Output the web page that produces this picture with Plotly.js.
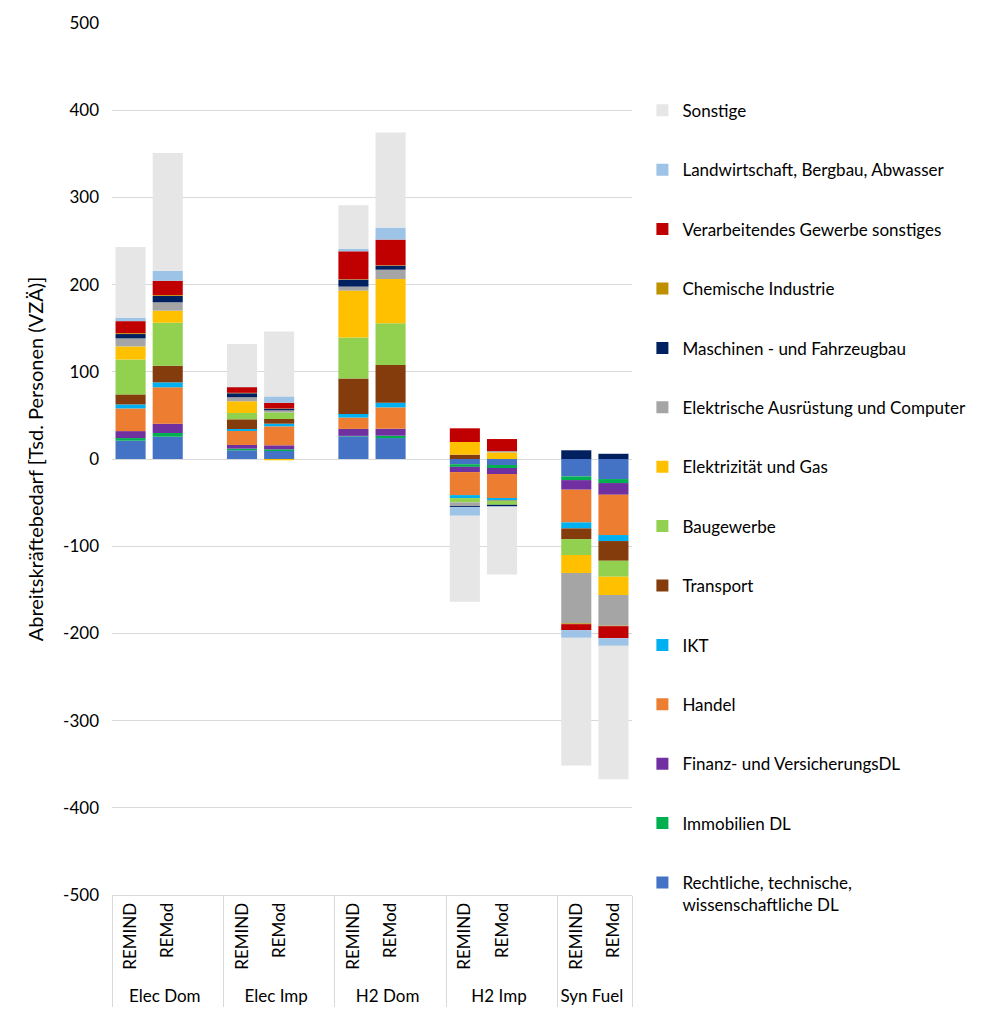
<!DOCTYPE html>
<html>
<head>
<meta charset="utf-8">
<script src="https://cdn.plot.ly/plotly-3.0.1.min.js"></script>
<style>html,body{margin:0;padding:0;background:#fff;}#chart{width:997px;height:1024px;}</style>
</head>
<body>
<div id="chart"></div>
<script>
// Groups and models (bars per group)
const groups = ['Elec Dom', 'Elec Imp', 'H2 Dom', 'H2 Imp', 'Syn Fuel'];
const models = ['REMIND', 'REMod'];

// Y tick labels (hyphen minus as in the original)
const yTickVals = [-500, -400, -300, -200, -100, 0, 100, 200, 300, 400, 500];
const yTickText = ['-500', '-400', '-300', '-200', '-100', '0', '100', '200', '300', '400', '500'];

// Series names (stack order bottom -> top)
const seriesNames = [
  'Rechtliche, technische,<br>wissenschaftliche DL',
  'Immobilien DL',
  'Finanz- und VersicherungsDL',
  'Handel',
  'IKT',
  'Transport',
  'Baugewerbe',
  'Elektrizität und Gas',
  'Elektrische Ausrüstung und Computer',
  'Maschinen - und Fahrzeugbau',
  'Chemische Industrie',
  'Verarbeitendes Gewerbe sonstiges',
  'Landwirtschaft, Bergbau, Abwasser',
  'Sonstige'
];
const seriesColors = ['#4472C4','#00B050','#7030A0','#ED7D31','#00B0F0','#843C0C','#92D050','#FFC000','#A5A5A5','#002060','#BF9000','#C00000','#9DC3E6','#E6E6E6'];

// Values per bar: ElecDom REMIND, ElecDom REMod, ElecImp REMIND, ElecImp REMod, H2Dom REMIND, H2Dom REMod, H2Imp REMIND, H2Imp REMod, SynFuel REMIND, SynFuel REMod
const rechtliche      = [21, 25.6, 10, 9.2, 26, 24, -6, -6.9, -20, -23];
const immobilien      = [3, 4.2, 1.9, 1.9, 0.5, 2.7, -3, -3.4, -4.2, -4.6];
const finanz          = [8, 10.7, 4.2, 4.6, 8, 8, -6, -6.9, -11, -13.4];
const handel          = [26, 41.7, 16, 21.8, 13, 24.5, -26.4, -27.5, -37.5, -46.2];
const ikt             = [4.6, 5.7, 2.3, 3, 4.2, 5.4, -3.4, -2.7, -6.9, -6.9];
const transport       = [11.5, 19.1, 11.1, 5.4, 40.5, 43.2, 5, -0.5, -12.2, -22.6];
const baugewerbe      = [40, 49.3, 7.3, 7.6, 47, 47.8, -5, -4.6, -18.3, -18.3];
const elektrizitaet   = [15, 13.8, 13.4, -1.5, 53.9, 50.8, 14.5, 7.6, -20.6, -21];
const elektrAusr      = [9.2, 9.6, 4.6, 2.3, 4.6, 10.7, -4.2, 1.5, -57.7, -35.2];
const maschinen       = [5, 7.3, 4.6, 1.9, 8, 4.6, -1.1, -1.9, 10, 6];
const chemie          = [1, 1, 0.5, 0.3, 0.5, 0.5, 0, 0, -1, -0.5];
const verarbeitendes  = [13.8, 16.4, 6.5, 6.5, 32, 29.4, 15.7, 13.8, -6.9, -13.8];
const landwirtschaft  = [4, 11.5, 0.5, 7.3, 3, 13.8, -10, -0.5, -8.8, -8.8];
const sonstige        = [81, 135, 49, 74.5, 49.7, 109, -98.6, -77.6, -146.4, -152.9];

const seriesValues = [rechtliche, immobilien, finanz, handel, ikt, transport, baugewerbe, elektrizitaet, elektrAusr, maschinen, chemie, verarbeitendes, landwirtschaft, sonstige];

// Build multicategory x with an empty spacer slot after each group but the last
const xGroup = [], xSub = [], idxMap = [];
groups.forEach((g, gi) => {
  models.forEach((m, mi) => { xGroup.push(g); xSub.push(m); idxMap.push(gi * models.length + mi); });
  if (gi < groups.length - 1) { xGroup.push(g); xSub.push(' '); idxMap.push(null); }
});

const FONT = 'Lato, "Open Sans", sans-serif';
const N = seriesNames.length;

const traces = seriesNames.map((name, si) => ({
  type: 'bar',
  name: name,
  x: [xGroup, xSub],
  y: idxMap.map(k => k === null ? null : seriesValues[si][k]),
  marker: { color: seriesColors[si], line: { width: 0 } },
  legendgroup: 'g' + si,
  legendrank: (N - si) * 10,
  hoverinfo: 'skip'
}));

const layout = {
  width: 997,
  height: 1024,
  margin: { l: 112, r: 365, t: 23, b: 129 },
  paper_bgcolor: '#ffffff',
  plot_bgcolor: '#ffffff',
  barmode: 'relative',
  bargap: 0.19,
  font: { family: FONT, size: 17, color: '#000000' },
  showlegend: true,
  legend: {
    traceorder: 'grouped',
    tracegroupgap: 34.3,
    x: 1.02, xanchor: 'left',
    y: 0.92, yanchor: 'top',
    valign: 'top',
    font: { family: FONT, size: 17, color: '#000000' },
    bgcolor: 'rgba(0,0,0,0)'
  },
  xaxis: {
    type: 'multicategory',
    tickangle: -90,
    showline: true,
    linecolor: '#D9D9D9',
    linewidth: 1,
    showgrid: false,
    ticks: '',
    showdividers: true,
    dividercolor: '#D9D9D9',
    dividerwidth: 1,
    tickfont: { family: FONT, size: 17, color: '#000000' }
  },
  yaxis: {
    range: [-500, 500],
    tickmode: 'array',
    tickvals: yTickVals,
    ticktext: yTickText,
    showgrid: true,
    gridcolor: '#D9D9D9',
    gridwidth: 1,
    zeroline: true,
    zerolinecolor: '#D9D9D9',
    zerolinewidth: 1,
    showline: false,
    ticks: '',
    ticklabelstandoff: 12,
    tickfont: { family: FONT, size: 17, color: '#000000' },
    title: { text: 'Abreitskräftebedarf [Tsd. Personen (VZÄ)]', font: { family: FONT, size: 20, color: '#000000' }, standoff: 14 }
  }
};

Plotly.newPlot('chart', traces, layout, { displayModeBar: false, staticPlot: true });
</script>
</body>
</html>
